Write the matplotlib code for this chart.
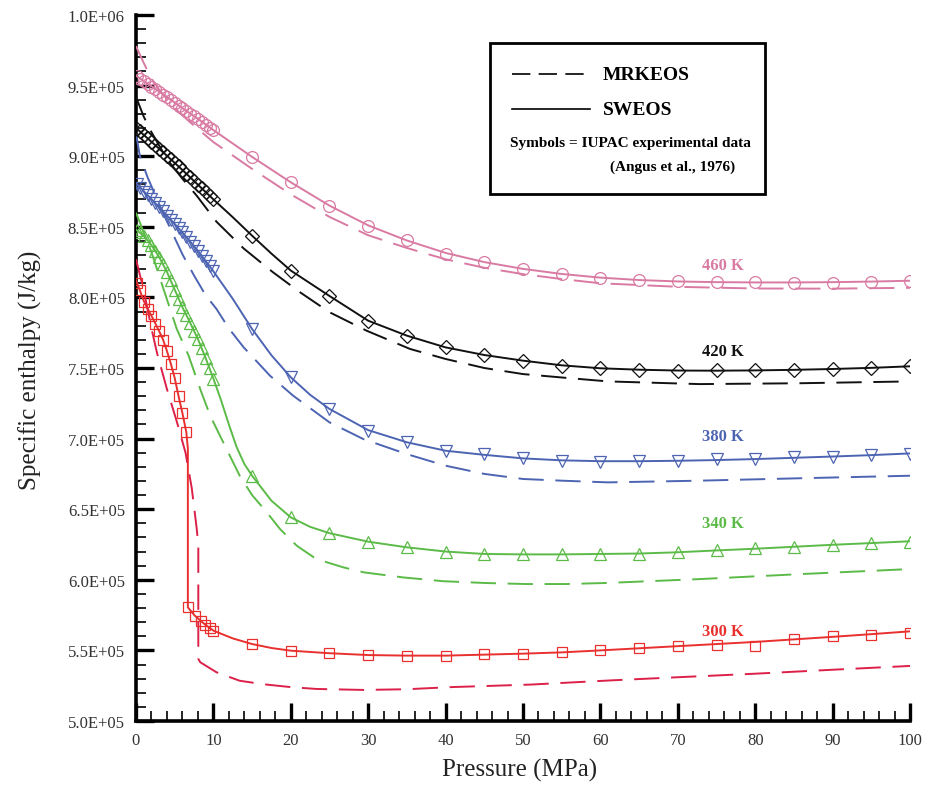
import matplotlib.pyplot as plt
from matplotlib.patches import Rectangle
from matplotlib.ticker import MultipleLocator, FuncFormatter

plt.rcParams['font.family'] = ['Liberation Serif', 'DejaVu Serif']

# experimental pressures (MPa)
p_low = [0.1, 0.5, 1, 1.5, 2, 2.5, 3, 3.5, 4, 4.5, 5, 5.5, 6, 6.5, 7, 7.5, 8, 8.5, 9, 9.5, 10]
p_high = [15, 20, 25, 30, 35, 40, 45, 50, 55, 60, 65, 70, 75, 80, 85, 90, 95, 100]

# ---- 460 K
exp_460 = [956.5, 955, 953, 951, 949.2, 947.3, 945.4, 943.5, 941.6, 939.7, 937.8, 935.9, 934, 932, 930.1,
           928.2, 926.2, 924.2, 922.3, 920.3, 918.4,
           899.4, 881.5, 865, 850.9, 840.3, 830.8, 824.9, 820.2, 816.6, 813.5, 812, 811.4, 811, 811, 810.2,
           810.2, 810.7, 811.4]
p_sw_460 = [0, 2, 4, 6, 8, 10, 12.5, 15, 17.5, 20, 25, 30, 35, 40, 45, 50, 55, 60, 65, 70, 75, 80, 85, 90, 95, 100]
sw_460 = [957, 949.5, 942, 934, 926.5, 918.5, 909, 899.5, 890.5, 881.5, 865, 851, 840.3, 831.5, 825, 820.2,
          816.6, 814, 812.3, 811.3, 810.8, 810.6, 810.6, 810.8, 811.2, 811.8]
p_mrk_460 = [0, 1, 2, 3, 5, 7, 10, 15, 20, 25, 30, 35, 40, 45, 50, 55, 60, 70, 80, 90, 100]
mrk_460 = [978, 966, 955, 947, 934, 924, 910, 891, 873, 857, 844, 835, 827, 821, 816.5, 813, 810, 807.5,
           806.3, 806.2, 806.8]

# ---- 420 K
exp_420 = [919.5, 917.5, 915, 912.6, 910.2, 907.7, 905.3, 902.8, 900.3, 897.8, 895.3, 892.8, 890.2, 887.6,
           885, 882.4, 879.8, 877.2, 874.6, 872, 869.4,
           843.7, 819, 801, 783.5, 772.9, 764.6, 759.2, 755.2, 751.6, 749.8, 748.8, 748.1, 748.5, 748.5, 748.8,
           749.3, 750, 751.2]
p_sw_420 = [0, 2, 4, 6, 8, 10, 12.5, 15, 17.5, 20, 25, 30, 35, 40, 45, 50, 55, 60, 65, 70, 75, 80, 85, 90, 95, 100]
sw_420 = [920, 910.2, 900.3, 890.2, 879.8, 869.4, 856.8, 843.7, 831, 819, 801, 783.5, 772.9, 764.6, 759.2,
          755.2, 751.9, 749.8, 748.8, 748.2, 748.1, 748.3, 748.7, 749.3, 750.1, 751.2]
p_mrk_420 = [0, 1, 2, 4, 6, 7.85, 10.4, 13.9, 17.7, 21.2, 25, 29.8, 35.4, 40, 45, 50, 55.6, 61, 72.8, 85.7, 100]
mrk_420 = [942, 928, 917, 898, 884, 872, 853.6, 834.7, 817.8, 803.6, 789.5, 776.4, 763.5, 756.4, 750, 745.7,
           743, 740.5, 738.6, 739.2, 740.5]

# ---- 380 K
exp_380 = [880, 877.5, 875, 872.3, 869.5, 866.8, 864, 861, 858, 855, 852, 849, 846, 842.8, 839.5, 836.3, 833,
           829.5, 826, 822.3, 818.5,
           777.6, 743.4, 721, 705.6, 697.4, 691.4, 689, 686, 684.3, 683.6, 684.3, 684.3, 685.5, 685.5, 686.7,
           687.2, 688.4, 689]
p_sw_380 = [0, 2, 4, 6, 8, 10, 12.5, 15, 17.5, 20, 22.5, 25, 30, 35, 40, 45, 50, 55, 60, 65, 70, 75, 80, 85,
            90, 95, 100]
sw_380 = [881, 869.5, 858, 846, 833, 818.5, 799, 777.6, 759, 743.4, 731, 721, 706, 697.4, 691.4, 688.5, 686,
          684.6, 684, 684, 684.3, 684.8, 685.5, 686.4, 687.3, 688.3, 689.5]
p_mrk_380 = [0, 0.5, 1.5, 3, 4.5, 6, 7.5, 9, 10.4, 12, 13.9, 17.3, 20.3, 25, 29.4, 35, 40, 45, 50, 55, 61,
             72.8, 85.7, 100]
mrk_380 = [916, 900, 885, 866, 848, 830.5, 815.5, 801.5, 791.8, 778, 764.7, 744.6, 730.4, 711.5, 699.6, 689,
           680.8, 675, 671.4, 670.2, 669, 670.2, 671.9, 673.7]

# ---- 340 K
exp_340 = [848, 846, 843.5, 840.5, 837, 833, 828.5, 823.5, 818, 812, 805.5, 799, 793, 787.5, 782, 776.5,
           770.5, 764, 757, 750, 742.5,
           673.7, 644.2, 633, 627, 623, 620, 618.3, 618.3, 618.3, 618.3, 618.3, 619.5, 621.1, 622.3, 623,
           624.6, 626, 627]
p_sw_340 = [0, 1, 2, 3, 4, 5, 6, 7, 8, 9, 10, 11, 12, 13, 14, 15, 17.5, 20, 22.5, 25, 30, 35, 40, 45, 50,
            55, 60, 65, 70, 75, 80, 85, 90, 95, 100]
sw_340 = [848, 843.5, 837, 828.5, 818, 805.5, 793, 782, 770.5, 757, 742.5, 727, 710, 694, 682, 673.7, 656,
          644.2, 637.5, 633, 627, 623, 620, 618.3, 618, 618, 618.3, 618.6, 619.5, 620.8, 622, 623.4, 624.8,
          626, 627.3]
p_mrk_340 = [0, 1, 2, 3.55, 5.27, 6.8, 8.3, 9.6, 11.7, 13.4, 15, 16.9, 18.6, 20.8, 23.3, 26.8, 29.4, 34.5,
             39.7, 45.3, 50.4, 55.6, 61, 72.8, 85.7, 100]
mrk_340 = [860, 846, 832, 806, 777.6, 758.7, 735, 716, 692.6, 673.7, 660, 647.8, 636, 624, 614.7, 608.8,
           605.3, 601.7, 599, 597.7, 597, 597, 597.8, 600.5, 604, 607.6]

# ---- 300 K
p_exp_300 = [0.1, 0.5, 1, 1.5, 2, 2.5, 3, 3.5, 4, 4.5, 5, 5.5, 6, 6.5,
             6.7, 7.6, 8.35, 8.95, 9.5, 10,
             15, 20, 25, 30, 35, 40, 45, 50, 55, 60, 65, 70, 75, 80, 85, 90, 95, 100]
exp_300 = [810, 805, 797, 792, 787, 781.5, 776, 770, 762, 753, 743, 730, 718, 704.5,
           580.5, 574.6, 571, 568, 566, 564,
           554.5, 549.8, 548, 546.7, 546.3, 546.3, 547.2, 547.7, 548.6, 550, 551.5, 552.9, 553.8, 553.3,
           558, 560, 561, 562.5]
p_sw_300 = [0, 0.5, 1, 1.5, 2, 2.5, 3, 3.5, 4, 4.5, 5, 5.5, 6, 6.5, 6.7, 6.7, 7.6, 8.35, 9, 10, 12.5, 15,
            17.5, 20, 25, 30, 35, 40, 45, 50, 55, 60, 65, 70, 75, 80, 85, 90, 95, 100]
sw_300 = [812, 805, 797.5, 792, 787, 781.5, 776, 770, 762, 753, 743, 730, 718, 704.5, 693, 580.5, 574.6, 571,
          568, 564, 558.5, 554.5, 551.7, 549.8, 548, 546.7, 546.3, 546.3, 547, 547.7, 548.6, 550, 551.5, 553,
          554.5, 556, 557.8, 559.6, 561.5, 563.5]
p_mrk_300 = [0, 1, 2, 2.7, 4, 5.3, 6.4, 7.2, 7.85, 8.05, 8.05, 8.3, 10.4, 13.4, 16.5, 20, 23.3, 29.4, 35,
             40.7, 51, 61.5, 70, 80, 90, 100]
mrk_300 = [827, 805, 778, 761, 735, 711.5, 690, 665, 636, 624, 544, 541.6, 534.5, 528.5, 526, 524, 522.7,
           522, 522.5, 524, 525.8, 528.8, 531, 533.5, 536.3, 539]

series = [
    ("460 K", "#d97aa3", "o", exp_460, p_sw_460, sw_460, p_mrk_460, mrk_460, 822.9),
    ("420 K", "#111111", "D", exp_420, p_sw_420, sw_420, p_mrk_420, mrk_420, 762),
    ("380 K", "#4d64b3", "v", exp_380, p_sw_380, sw_380, p_mrk_380, mrk_380, 701.8),
    ("340 K", "#5cbb48", "^", exp_340, p_sw_340, sw_340, p_mrk_340, mrk_340, 640.2),
]

fig = plt.figure(figsize=(9.28, 8.03), dpi=100)
ax = fig.add_axes([136 / 928, 81 / 803, 774 / 928, 706 / 803])

def kj(vals):
    return [v * 1e3 for v in vals]

for label, col, mk, ex, psw, sw, pm, mrk, ylab in series:
    ax.plot(psw, kj(sw), color=col, lw=1.4, zorder=3)
    ax.plot(pm, kj(mrk), color=col, lw=1.4, dashes=(13, 6), zorder=3)
    ms = 7 if mk == "D" else 8.5
    ax.plot(p_low + p_high, kj(ex), ls="none", marker=mk, ms=ms, mfc="none", mec=col, mew=0.9, zorder=4)
    ax.text(75.8, ylab * 1e3, label, color=col, fontsize=12, fontweight="bold", ha="center", va="center")

red = "#e8302e"
ax.plot(p_sw_300, kj(sw_300), color=red, lw=1.4, zorder=3)
ax.plot(p_mrk_300, kj(mrk_300), color="#dc2048", lw=1.4, dashes=(13, 6), zorder=3)
ax.plot(p_exp_300, kj(exp_300), ls="none", marker="s", ms=7.5, mfc="none", mec=red, mew=0.9, zorder=4)
ax.text(75.8, 563.7e3, "300 K", color=red, fontsize=12, fontweight="bold", ha="center", va="center")

ax.set_xlim(0, 100)
ax.set_ylim(5e5, 1e6)
for s in ("top", "right"):
    ax.spines[s].set_visible(False)
for s in ("left", "bottom"):
    ax.spines[s].set_linewidth(2.6)
ax.xaxis.set_major_locator(MultipleLocator(10))
ax.xaxis.set_minor_locator(MultipleLocator(2))
ax.yaxis.set_major_locator(MultipleLocator(5e4))
ax.yaxis.set_minor_locator(MultipleLocator(1e4))
ax.yaxis.set_major_formatter(FuncFormatter(lambda v, pos: f"{v:.1E}"))
ax.tick_params(which="major", direction="in", length=13, width=2.4, labelsize=12, pad=8)
ax.tick_params(which="minor", direction="in", length=7, width=1.2)
for t in ax.get_xticklabels() + ax.get_yticklabels():
    t.set_color("#333333")

fig.text(30 / 928, 1 - 370 / 803, "Specific enthalpy (J/kg)", rotation=90, fontsize=18,
         ha="center", va="center", color="#222222")
fig.text(520 / 928, 1 - 770 / 803, "Pressure (MPa)", fontsize=18, ha="center", va="center", color="#222222")

# legend box
ax.add_patch(Rectangle((45.7, 873.2e3), 35.6, 107e3, fill=True, fc="white", ec="black", lw=2, zorder=6))
ax.plot([48.6, 58.6], [958.2e3, 958.2e3], color="black", lw=1.2, dashes=(11, 5), zorder=7)
ax.plot([48.6, 58.6], [933.4e3, 933.4e3], color="black", lw=1.2, zorder=7)
ax.text(60.3, 958.2e3, "MRKEOS", fontsize=14, fontweight="bold", va="center", zorder=7)
ax.text(60.3, 933.4e3, "SWEOS", fontsize=14, fontweight="bold", va="center", zorder=7)
ax.text(48.3, 910e3, "Symbols = IUPAC experimental data", fontsize=11, fontweight="bold", va="center",
        zorder=7)
ax.text(61.2, 893e3, "(Angus et al., 1976)", fontsize=11, fontweight="bold", va="center", zorder=7)

fig.savefig("out.png", dpi=100)
